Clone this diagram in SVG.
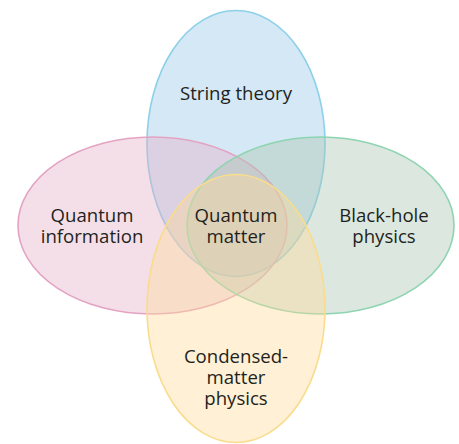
<svg xmlns="http://www.w3.org/2000/svg" width="459" height="444" viewBox="0 0 459 444">
<style>
.e{stroke-width:1.6}
.lbl{font-family:"Open Sans","Noto Sans",sans-serif;font-size:18.6px;fill:#231f20;text-anchor:middle}
</style>
<rect width="459" height="444" fill="#fff"/>
<g id="string-theory">
<ellipse cx="236" cy="143.5" rx="89" ry="133" fill="#96c5e8" fill-opacity="0.4" stroke="#8dd0ea" class="e"/>
</g>
<g id="quantum-information">
<ellipse cx="152.5" cy="225.5" rx="134.5" ry="88.5" fill="#e3afc5" fill-opacity="0.4" stroke="#e4a3c3" class="e"/>
</g>
<g id="black-hole-physics">
<ellipse cx="320.5" cy="225.5" rx="133.5" ry="88.5" fill="#a7c5af" fill-opacity="0.4" stroke="#8dd4b0" class="e"/>
</g>
<g id="condensed-matter-physics">
<ellipse cx="236" cy="308.5" rx="89" ry="134" fill="#ffd998" fill-opacity="0.4" stroke="#f9dc8c" class="e"/>
</g>
<g id="labels">
<text class="lbl" x="236" y="100">String theory</text>
<text class="lbl" x="92" y="222">Quantum<tspan x="92" dy="20.5">information</tspan></text>
<text class="lbl" x="236" y="222">Quantum<tspan x="236" dy="20.5">matter</tspan></text>
<text class="lbl" x="384" y="222">Black-hole<tspan x="384" dy="20.5">physics</tspan></text>
<text class="lbl" x="236" y="363">Condensed-<tspan x="236" dy="21">matter</tspan><tspan x="236" dy="21">physics</tspan></text>
</g>
</svg>
